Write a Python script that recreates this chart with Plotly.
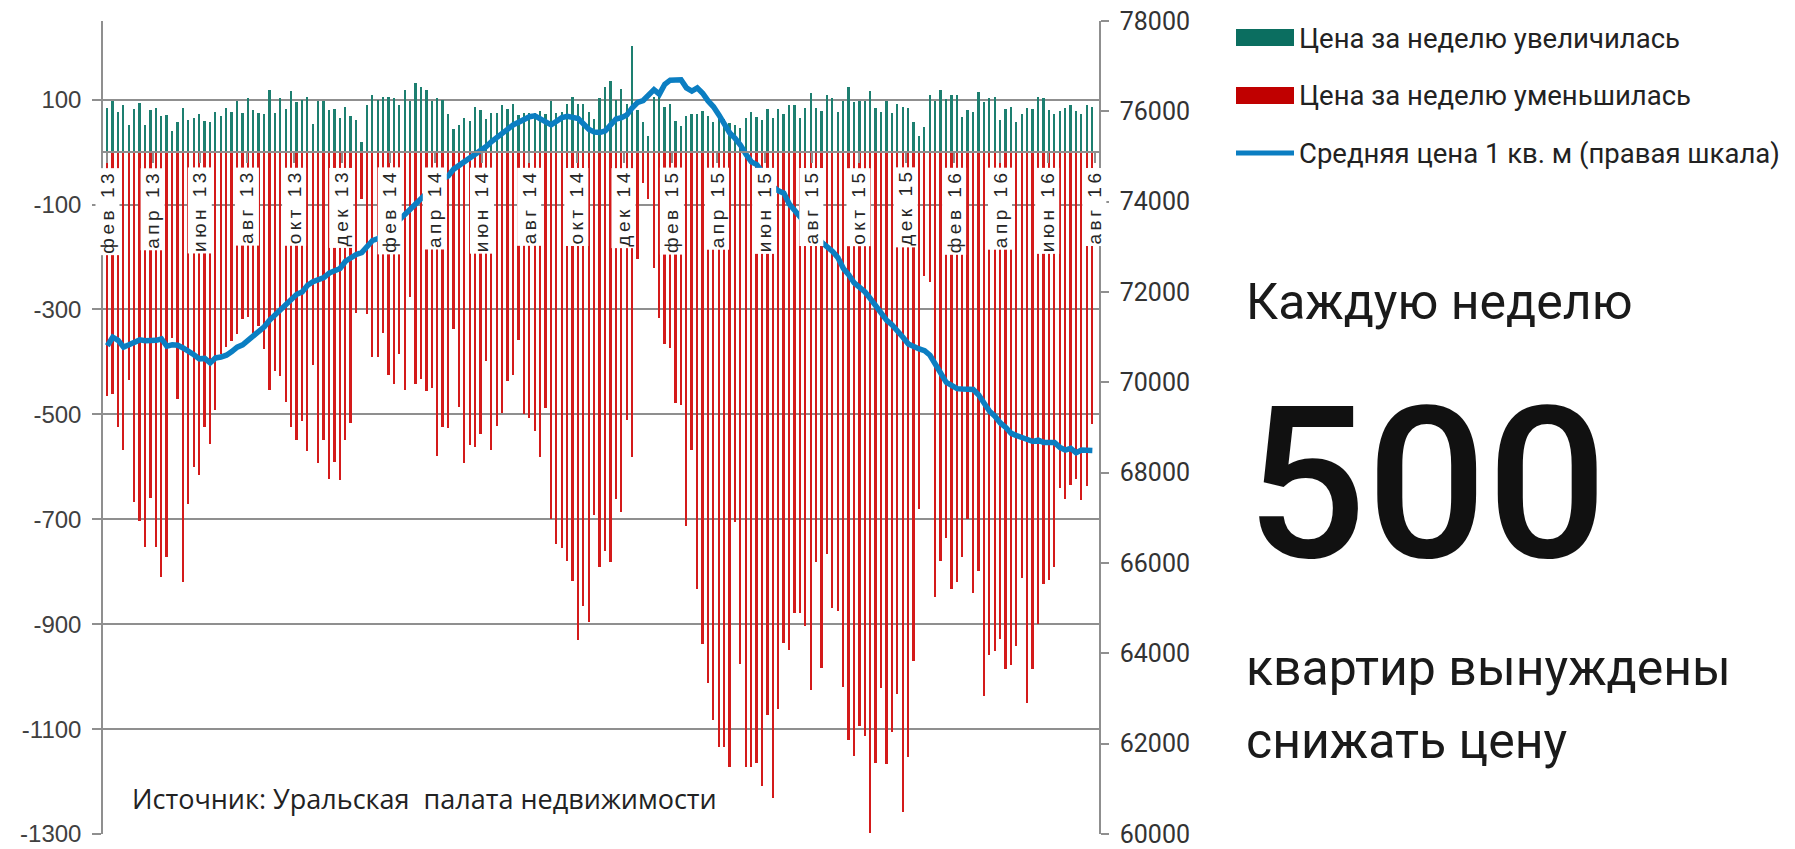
import plotly.graph_objects as go
import pandas as pd

# ---------------- data ----------------
start_date = "2013-02-01"
n_weeks = 183
week_dates = pd.date_range(start_date, periods=n_weeks, freq="7D")

price_up = [
    85, 98, 77, 90, 52, 82, 93, 52, 80, 85, 69, 71, 41, 57, 85, 62, 65, 72, 60, 57,
    77, 69, 84, 77, 98, 74, 103, 80, 74, 72, 119, 74, 103, 82, 116, 95, 100, 106, 54, 98,
    98, 80, 82, 65, 87, 68,
    62, 20, 89, 108, 99, 105, 105, 103, 89, 118, 98, 132, 124, 118, 98, 103, 99, 72, 44, 51,
    65, 60, 86, 80, 63, 74, 74, 89, 82, 92, 71, 74, 74, 74, 79, 73, 98, 74, 77, 91,
    105, 91, 92, 77, 63, 103,
    124, 135, 100, 121, 92, 202, 81, 57, 31, 105, 112, 86, 92, 59, 49, 69, 73, 73, 78, 69,
    57, 76, 64, 55, 52, 46, 65, 76, 67, 62, 82, 65, 82, 73, 89, 90, 65, 85, 113, 84,
    78, 108, 103, 76, 97,
    124, 95, 98, 98, 116, 85, 77, 97, 75, 92, 87, 85, 57, 31, 47, 108, 98, 118, 102, 108,
    108, 67, 81, 77, 114, 95, 104, 105, 62, 82, 87, 57, 72, 85, 82, 105, 104, 80, 72, 79,
    85, 89, 79, 72, 89, 87,
]

price_down = [
    -465, -462, -524, -568, -435, -667, -704, -753, -660, -753, -810, -772, -355, -470, -820,
    -670, -601, -615, -524, -556, -492, -385, -371, -361, -347, -318, -314, -344, -331, -375,
    -454, -417, -427, -476, -524, -548, -512, -569, -405, -593, -548, -623, -590, -626, -548,
    -517,
    -306, -89, -308, -390, -390, -345, -424, -443, -384, -454, -277, -443, -432, -456, -450,
    -579, -524, -525, -338, -486, -592, -558, -563, -537, -398, -567, -523, -497, -436, -425,
    -359, -499, -506, -531, -582, -487, -699, -747, -754, -780, -818, -930, -865, -896, -692,
    -790,
    -761, -781, -662, -687, -510, -582, -204, -59, -89, -221, -317, -365, -374, -478, -483,
    -713, -568, -832, -938, -1012, -1083, -1135, -1135, -1173, -706, -976, -1173, -1173, -1165,
    -1208, -1073, -1232, -1061, -935, -950, -879, -878, -903, -1026, -782, -984, -767, -870,
    -874, -1019,
    -1120, -1152, -1095, -1114, -1298, -1165, -1022, -1167, -1105, -1034, -1258, -1154, -970,
    -680, -236, -248, -849, -779, -736, -833, -819, -772, -700, -841, -799, -1037, -959, -951,
    -929, -986, -977, -941, -811, -1050, -985, -899, -824, -815, -790, -640, -662, -634, -623,
    -664, -637, -519,
]

avg_price = [
    70810, 71000, 70930, 70780, 70830, 70900, 70940, 70920, 70920, 70930,
    70960, 70800, 70830, 70820, 70760, 70700, 70610, 70520, 70530, 70430,
    70540, 70560, 70600, 70680, 70780, 70830, 70930, 71000, 71130, 71230,
    71380, 71500, 71620, 71720, 71860, 71950, 72000, 72150, 72230, 72280,
    72320, 72420, 72470, 72520, 72680, 72760, 72830, 72870, 73020, 73140,
    73180, 73300, 73400, 73520, 73600, 73720, 73850, 73930, 74050, 74200,
    74330, 74420, 74500, 74570, 74720, 74800, 74880, 74980, 75060, 75130,
    75220, 75330, 75430, 75530, 75620, 75700, 75760, 75830, 75880, 75900,
    75840, 75750, 75700, 75780, 75860, 75890, 75880, 75840, 75720, 75600,
    75540, 75530, 75570, 75700, 75830, 75860, 75920, 76080, 76200, 76240,
    76360, 76480, 76380, 76600, 76690, 76710, 76700, 76520, 76450, 76520,
    76400, 76230, 76100, 75920, 75700, 75520, 75400, 75250, 75050, 74880,
    74820, 74650, 74480, 74330, 74240, 74190, 73950, 73820, 73680, 73520,
    73380, 73230, 73100, 73000, 72900, 72760, 72520, 72380, 72200, 72100,
    72000, 71850, 71700, 71520, 71370, 71270, 71150, 71000, 70850, 70780,
    70740, 70700, 70600, 70400, 70180, 70000, 69930, 69860, 69850, 69840,
    69840, 69720, 69540, 69360, 69250, 69100, 69000, 68870, 68820, 68770,
    68730, 68690, 68720, 68670, 68670, 68670, 68560, 68500, 68540, 68440,
    68500, 68510, 68490,
]

month_ticks = [
    "2013-02-01", "2013-04-01", "2013-06-01", "2013-08-01", "2013-10-01", "2013-12-01",
    "2014-02-01", "2014-04-01", "2014-06-01", "2014-08-01", "2014-10-01", "2014-12-01",
    "2015-02-01", "2015-04-01", "2015-06-01", "2015-08-01", "2015-10-01", "2015-12-01",
    "2016-02-01", "2016-04-01", "2016-06-01", "2016-08-01",
]
month_labels = [
    "фев 13", "апр 13", "июн 13", "авг 13", "окт 13", "дек 13",
    "фев 14", "апр 14", "июн 14", "авг 14", "окт 14", "дек 14",
    "фев 15", "апр 15", "июн 15", "авг 15", "окт 15", "дек 15",
    "фев 16", "апр 16", "июн 16", "авг 16",
]

left_ticks = [100, -100, -300, -500, -700, -900, -1100, -1300]
left_tick_text = ["100", "-100", "-300", "-500", "-700", "-900", "-1100", "-1300"]
right_ticks = [60000, 62000, 64000, 66000, 68000, 70000, 72000, 74000, 76000, 78000]
right_tick_text = [str(v) for v in right_ticks]

legend_up = "Цена за неделю увеличилась"
legend_down = "Цена за неделю уменьшилась"
legend_line = "Средняя цена 1 кв. м (правая шкала)"

# ---------------- styling ----------------
# page body has an 8px margin: build the figure 8px smaller and work in screen pixels
OFF = 8
W, H = 1795 - OFF, 849 - OFF
SL, SR, ST, SB = 103, 1099, 21, 834          # plot box in screen pixels
L, R, T, B = SL - OFF, SR - OFF, ST - OFF, SB - OFF
GREEN = "#0b6e60"
RED = "#c00000"
BAR_RED = "#d41a1a"
BAR_GREEN = "#1d7f70"
BLUE = "#0b7ec2"
GRID = "#8f8f8f"
DAY_MS = 86400000


def px(x):
    return (x - SL) / (SR - SL)


def py(y):
    return (SB - y) / (SB - ST)


fig = go.Figure()
fig.add_trace(go.Bar(x=week_dates, y=price_up, width=2.3 * DAY_MS,
                     marker=dict(color=BAR_GREEN, line=dict(width=0)),
                     name=legend_up, showlegend=False))
fig.add_trace(go.Bar(x=week_dates, y=price_down, width=2.3 * DAY_MS,
                     marker=dict(color=BAR_RED, line=dict(width=0)),
                     name=legend_down, showlegend=False))
fig.add_trace(go.Scatter(x=week_dates, y=avg_price, yaxis="y2", mode="lines",
                         line=dict(color=BLUE, width=5.5),
                         name=legend_line, showlegend=False))

ymin, ymax = -1300, 250
zero_pos = (0 - ymin) / (ymax - ymin)

fig.update_layout(
    width=W, height=H, autosize=False,
    margin=dict(l=L, r=W - R, t=T, b=H - B, pad=0, autoexpand=False),
    paper_bgcolor="white", plot_bgcolor="white",
    barmode="relative", bargap=0,
    showlegend=False,
    xaxis=dict(type="date", range=["2013-01-26 10:00", "2016-08-06 14:00"],
               anchor="free", position=zero_pos, automargin=False,
               showline=True, linecolor=GRID, linewidth=2,
               ticks="outside", ticklen=10, tickwidth=1.5, tickcolor=GRID,
               tickvals=month_ticks, showticklabels=False, showgrid=False,
               zeroline=False),
    yaxis=dict(range=[ymin, ymax], tickvals=left_ticks, ticktext=left_tick_text,
               automargin=False,
               showline=True, linecolor=GRID, linewidth=1.5,
               ticks="outside", ticklen=9, tickwidth=1.5, tickcolor=GRID,
               showgrid=True, gridcolor=GRID, gridwidth=1.5, zeroline=False,
               ticklabelstandoff=6, ticklabeloverflow="allow",
               tickfont=dict(family="Liberation Sans Narrow, Liberation Sans",
                             size=24, color="#404040")),
    yaxis2=dict(range=[60000, 78000], overlaying="y", side="right", anchor="x",
                tickvals=right_ticks, ticktext=right_tick_text, automargin=False,
                showline=True, linecolor=GRID, linewidth=1.5,
                ticks="outside", ticklen=8, tickwidth=1.5, tickcolor=GRID,
                showgrid=False, zeroline=False, ticklabelstandoff=6,
                ticklabeloverflow="allow",
                tickfont=dict(family="Roboto", size=25, color="#333333")),
)

annotations = []
# month labels inside plot, rotated, on white boxes
for d, lab in zip(month_ticks, month_labels):
    annotations.append(dict(
        x=d, y=-29, xref="x", yref="y", showarrow=False,
        text='<span style="letter-spacing:3.5px">' + lab + '</span>',
        textangle=-90, xanchor="center", yanchor="top",
        bgcolor="white", borderpad=1,
        font=dict(family="Liberation Sans", size=19, color="#262626")))

# custom legend
shapes = [
    dict(type="rect", xref="paper", yref="paper", x0=px(1236), x1=px(1294),
         y0=py(46), y1=py(29), fillcolor=GREEN, line=dict(width=0)),
    dict(type="rect", xref="paper", yref="paper", x0=px(1236), x1=px(1294),
         y0=py(104), y1=py(87), fillcolor=RED, line=dict(width=0)),
    dict(type="line", xref="paper", yref="paper", x0=px(1236), x1=px(1294),
         y0=py(153), y1=py(153), line=dict(color=BLUE, width=5)),
]
for txt, yy in [(legend_up, 38), (legend_down, 96), (legend_line, 153)]:
    annotations.append(dict(x=px(1297), y=py(yy), xref="paper", yref="paper",
                            text=txt, showarrow=False, xanchor="left", yanchor="middle",
                            font=dict(family="Roboto", size=27.5, color="#222222")))

# right-hand message
annotations += [
    dict(x=px(1244), y=py(302), xref="paper", yref="paper", text="Каждую неделю",
         showarrow=False, xanchor="left", yanchor="middle",
         font=dict(family="Roboto", size=50, color="#1a1a1a")),
    dict(x=px(1426), y=py(484), xref="paper", yref="paper", text="500",
         showarrow=False, xanchor="center", yanchor="middle",
         font=dict(family="Roboto", size=212, color="#111111", weight=500)),
    dict(x=px(1244), y=py(668), xref="paper", yref="paper", text="квартир вынуждены",
         showarrow=False, xanchor="left", yanchor="middle",
         font=dict(family="Roboto", size=50, color="#1a1a1a")),
    dict(x=px(1244), y=py(741), xref="paper", yref="paper", text="снижать цену",
         showarrow=False, xanchor="left", yanchor="middle",
         font=dict(family="Roboto", size=50, color="#1a1a1a")),
    dict(x=px(130), y=py(798), xref="paper", yref="paper",
         text="Источник: Уральская  палата недвижимости",
         showarrow=False, xanchor="left", yanchor="middle",
         font=dict(family="Open Sans", size=27, color="#222222")),
]

fig.update_layout(annotations=annotations, shapes=shapes)
fig.write_html("out.html")
